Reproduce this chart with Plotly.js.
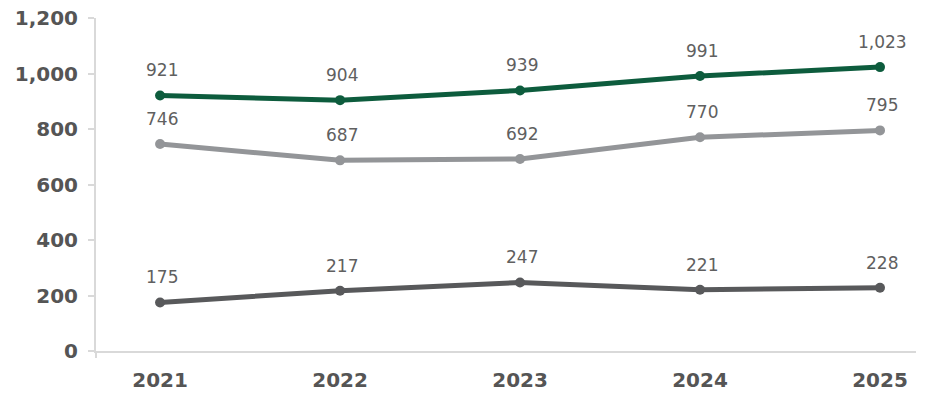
<!DOCTYPE html>
<html>
<head>
<meta charset="utf-8">
<script src="https://cdn.plot.ly/plotly-3.0.1.min.js"></script>
<style>html,body{margin:0;padding:0;background:#fff;}#chart{width:928px;height:393px;}</style>
</head>
<body>
<div id="chart"></div>
<script>
const years = ["2021", "2022", "2023", "2024", "2025"];
const seriesTop = [921, 904, 939, 991, 1023];
const seriesMid = [746, 687, 692, 770, 795];
const seriesLow = [175, 217, 247, 221, 228];
const yTicks = [0, 200, 400, 600, 800, 1000, 1200];
const yTickLabels = ["0", "200", "400", "600", "800", "1,000", "1,200"];

const colors = ["#0d5c3d", "#939598", "#58595b"];
const allSeries = [seriesTop, seriesMid, seriesLow];
const xIdx = years.map((_, i) => i);

const traces = allSeries.map((s, k) => ({
  x: xIdx, y: s, type: "scatter", mode: "lines+markers",
  line: {color: colors[k], width: 5},
  marker: {color: colors[k], size: 10},
  hoverinfo: "skip", showlegend: false
}));

const annotations = [];
allSeries.forEach(s => s.forEach((v, i) => {
  annotations.push({
    x: xIdx[i], y: v, xref: "x", yref: "y",
    text: v.toLocaleString("en-US"), showarrow: false,
    yshift: 25, xshift: 2,
    font: {family: "DejaVu Sans, sans-serif", size: 17, color: "#606060"}
  });
}));

const layout = {
  width: 928, height: 393,
  margin: {l: 96, r: 12, t: 18, b: 42},
  paper_bgcolor: "#ffffff", plot_bgcolor: "#ffffff",
  xaxis: {
    range: [-0.356, 4.2], tickvals: xIdx, ticktext: years,
    showgrid: false, zeroline: false, showline: true, linecolor: "#d9d9d9", linewidth: 2,
    ticks: "", ticklabelstandoff: 10,
    tickfont: {family: "DejaVu Sans, sans-serif", size: 20, color: "#555555", weight: "bold"}
  },
  yaxis: {
    range: [0, 1200], tickvals: yTicks, ticktext: yTickLabels,
    showgrid: false, zeroline: false, showline: true, linecolor: "#d9d9d9", linewidth: 2,
    ticks: "outside", ticklen: 6, tickcolor: "#d9d9d9", tickwidth: 2, ticklabelstandoff: 6,
    tickfont: {family: "DejaVu Sans, sans-serif", size: 20, color: "#555555", weight: "bold"}
  },
  shapes: [{
    type: "line", xref: "paper", yref: "paper", x0: 0, x1: 0, y0: -0.021, y1: 0,
    line: {color: "#d9d9d9", width: 2}
  }],
  annotations: annotations
};

Plotly.newPlot("chart", traces, layout, {displayModeBar: false, staticPlot: true});
</script>
</body>
</html>
